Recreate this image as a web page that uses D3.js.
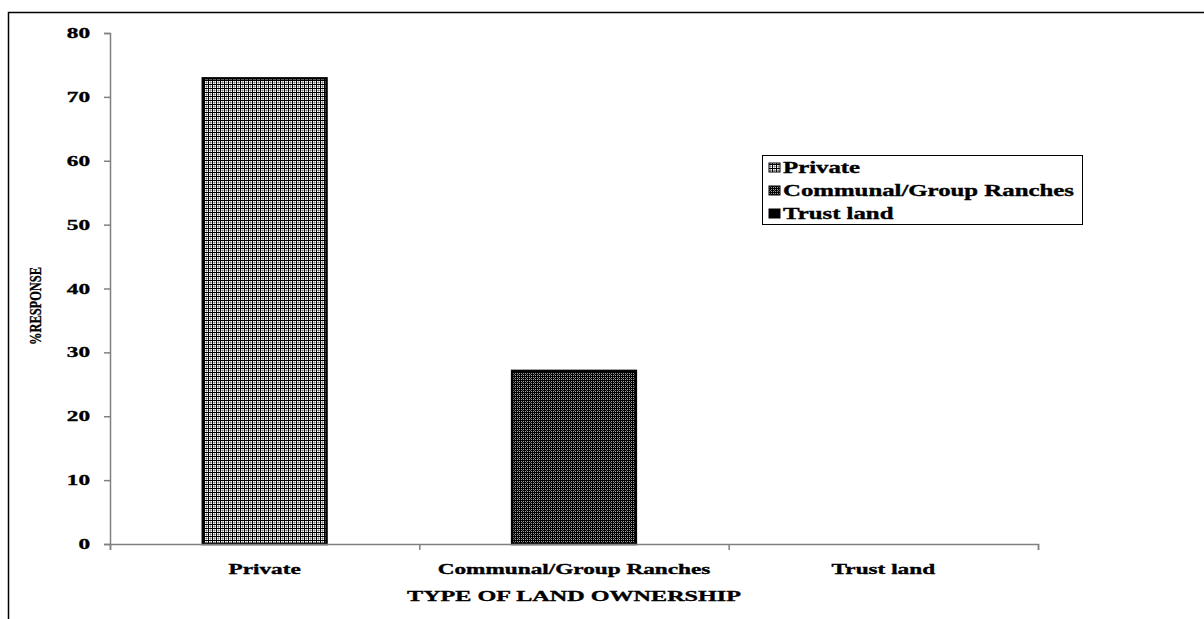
<!DOCTYPE html>
<html>
<head>
<meta charset="utf-8">
<script src="https://cdn.jsdelivr.net/npm/d3@7"></script>
<style>
  html, body { margin: 0; padding: 0; background: #fff; }
  svg { display: block; }
  text { font-family: "Liberation Serif", "Times New Roman", serif; font-weight: bold; fill: #000; stroke: #000; stroke-width: 0.35px; }
</style>
</head>
<body>
<svg id="chart" width="1204" height="619"></svg>
<script>
// Land ownership survey: share of respondents (%)
const categories = ["Private", "Communal/Group Ranches", "Trust land"];
const values = [72.9, 27.1, 0];
const yTicks = [0, 10, 20, 30, 40, 50, 60, 70, 80];
const xTitle = "TYPE OF LAND OWNERSHIP";
const yTitle = "%RESPONSE";

const svg = d3.select("#chart");
const W = 1204, H = 619;
const plot = { left: 110, right: 1038, top: 33, bottom: 544 };
const axisGray = "#808080";
const stretch = 1.55; // wide bold serif lettering

// Fill patterns
const defs = svg.append("defs");
const grid = defs.append("pattern").attr("id", "pat-grid")
  .attr("patternUnits", "userSpaceOnUse").attr("width", 4).attr("height", 4);
grid.append("rect").attr("width", 4).attr("height", 4).attr("fill", "#fff");
grid.append("rect").attr("x", 2).attr("y", 2).attr("width", 1).attr("height", 1).attr("fill", "#7a7a7a");
grid.append("rect").attr("x", 1).attr("y", 2).attr("width", 1).attr("height", 1).attr("fill", "#b0b0b0");
grid.append("rect").attr("x", 3).attr("y", 2).attr("width", 1).attr("height", 1).attr("fill", "#b0b0b0");
grid.append("rect").attr("x", 2).attr("y", 1).attr("width", 1).attr("height", 1).attr("fill", "#b0b0b0");
grid.append("rect").attr("x", 2).attr("y", 3).attr("width", 1).attr("height", 1).attr("fill", "#b0b0b0");
grid.append("rect").attr("x", 0).attr("y", 0).attr("width", 4).attr("height", 1).attr("fill", "#000");
grid.append("rect").attr("x", 0).attr("y", 0).attr("width", 1).attr("height", 4).attr("fill", "#000");

const check = defs.append("pattern").attr("id", "pat-check")
  .attr("patternUnits", "userSpaceOnUse").attr("width", 4).attr("height", 4);
check.append("rect").attr("width", 4).attr("height", 4).attr("fill", "#000");
[[1, 1], [3, 1], [1, 3], [3, 3]].forEach(([px, py]) =>
  check.append("rect").attr("x", px).attr("y", py).attr("width", 1).attr("height", 1).attr("fill", "#a0a0a0"));
check.append("rect").attr("x", 2).attr("y", 2).attr("width", 1).attr("height", 1).attr("fill", "#606060");

const fills = ["url(#pat-grid)", "url(#pat-check)", "#000"];

// Outer frame
svg.append("rect").attr("x", 8.5).attr("y", 12.5).attr("width", W).attr("height", H)
  .attr("fill", "none").attr("stroke", "#000").attr("stroke-width", 1.5);

// Scales
const x = d3.scaleBand().domain(categories)
  .range([plot.left, plot.right]).paddingInner(0.6).paddingOuter(0.3);
const y = d3.scaleLinear().domain([0, 80]).range([plot.bottom, plot.top]);

// Stretched text helper
function label(g, tx, ty, str, size, anchor) {
  return g.append("text")
    .attr("transform", `translate(${tx},${ty}) scale(${stretch},1)`)
    .attr("text-anchor", anchor)
    .attr("font-size", size)
    .text(str);
}

// Y axis
const yAxis = svg.append("g").attr("transform", `translate(${plot.left},0)`)
  .call(d3.axisLeft(y).tickValues(yTicks).tickSize(6).tickFormat(""));
yAxis.select(".domain").attr("stroke", axisGray).attr("stroke-width", 1.5);
yAxis.selectAll(".tick line").attr("stroke", axisGray).attr("stroke-width", 1.5);
yTicks.forEach(v => label(svg, 90, y(v) + 5, String(v), 15, "end"));

// Bars
svg.append("g").selectAll("rect").data(categories).join("rect")
  .attr("x", d => x(d))
  .attr("y", (d, i) => y(values[i]))
  .attr("width", x.bandwidth())
  .attr("height", (d, i) => y(0) - y(values[i]))
  .attr("fill", (d, i) => fills[i])
  .attr("stroke", "#000").attr("stroke-width", 2.5)
  .attr("display", (d, i) => values[i] > 0 ? null : "none");

// X axis with tick marks at category boundaries
const bounds = d3.range(categories.length + 1).map(i => plot.left + i * x.step());
const xAxis = svg.append("g").attr("transform", `translate(0,${plot.bottom})`)
  .call(d3.axisBottom(d3.scaleLinear().domain([plot.left, plot.right]).range([plot.left, plot.right]))
    .tickValues(bounds).tickSize(6).tickSizeOuter(6).tickFormat(""));
xAxis.select(".domain").attr("stroke", axisGray).attr("stroke-width", 1.5);
xAxis.selectAll(".tick line").attr("stroke", axisGray).attr("stroke-width", 1.5);
categories.forEach(c => label(svg, x(c) + x.bandwidth() / 2, 574, c, 15, "middle"));

// Axis titles
label(svg, (plot.left + plot.right) / 2, 601, xTitle, 15.6, "middle");
svg.append("text")
  .attr("transform", "translate(41,306) rotate(-90)")
  .attr("text-anchor", "middle")
  .attr("font-size", 17)
  .attr("textLength", 78).attr("lengthAdjust", "spacingAndGlyphs")
  .text(yTitle);

// Legend
const lg = svg.append("g");
lg.append("rect").attr("x", 762.5).attr("y", 155.5).attr("width", 320).attr("height", 69)
  .attr("fill", "#fff").attr("stroke", "#000").attr("stroke-width", 1);
categories.forEach((c, i) => {
  const base = 173 + i * 23;
  lg.append("rect").attr("x", 769).attr("y", base - 10).attr("width", 11).attr("height", 9)
    .attr("fill", fills[i]).attr("stroke", "#000").attr("stroke-width", 1);
  label(lg, 783, base, c, 16, "start");
});
</script>
</body>
</html>
